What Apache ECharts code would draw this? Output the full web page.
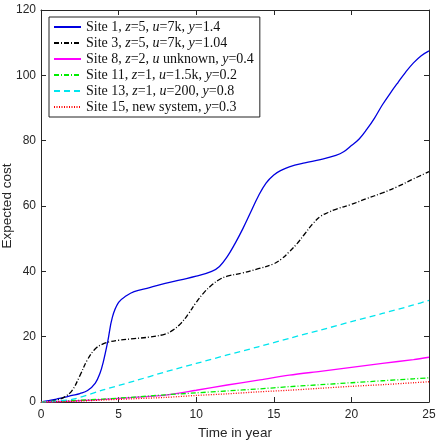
<!DOCTYPE html>
<html>
<head>
<meta charset="utf-8">
<script src="https://cdn.jsdelivr.net/npm/echarts@6/dist/echarts.min.js"></script>
<style>
  html, body { margin: 0; padding: 0; background: #fff; }
  #chart { width: 436px; height: 442px; }
</style>
</head>
<body>
<div id="chart"></div>
<script>
// time points (years) and expected cost per site
const site1T = [0, 0.5, 1, 1.5, 2, 2.5, 3, 3.5, 3.8, 4, 4.3, 4.6, 5, 5.5, 6, 7, 8, 9, 10, 11, 11.5, 12, 12.5, 13, 13.5, 14, 14.5, 15, 15.5, 16, 17, 18, 19, 19.5, 20, 20.5, 21, 21.5, 22, 22.5, 23, 23.5, 24, 24.5, 25];
const site1Y = [0, 0.4, 0.9, 1.4, 2.0, 2.6, 3.5, 5.8, 8.8, 12, 18.5, 26, 30.5, 32.5, 33.8, 35, 36.3, 37.4, 38.5, 40, 41.5, 44.5, 48.5, 53, 58, 63, 67, 69.5, 71, 72, 73.2, 74.2, 75.5, 76.6, 78.5, 80.5, 83.5, 87, 91, 94.5, 97.8, 101, 103.8, 106, 107.5];

const site3T = [0, 0.5, 1, 1.5, 2, 2.5, 3, 3.5, 4, 4.5, 5, 6, 7, 8, 8.5, 9, 9.5, 10, 10.5, 11, 11.5, 12, 13, 14, 15, 15.5, 16, 16.5, 17, 17.5, 18, 18.5, 19, 20, 21, 22, 23, 24, 25];
const site3Y = [0, 0.2, 0.6, 1.5, 3.5, 8, 13, 16.3, 17.8, 18.5, 18.9, 19.4, 19.9, 20.8, 22, 24, 27, 30.5, 33.5, 35.8, 37.5, 38.5, 39.5, 40.8, 42.3, 43.8, 46, 48.5, 51.5, 54.5, 56.8, 58, 59, 60.5, 62.3, 64, 66, 68.3, 70.5];

const years = [0, 2, 4, 6, 8, 10, 12, 14, 16, 18, 20, 22, 24, 25];
const site8Y = [0, 0.3, 0.8, 1.4, 2.1, 3.6, 5.2, 6.7, 8.2, 9.4, 10.6, 11.8, 13.0, 13.7];
const site11Y = [0, 0.4, 0.9, 1.5, 2.2, 2.8, 3.4, 4.0, 4.7, 5.3, 5.9, 6.5, 7.1, 7.4];
const site13Y = [0, 0.8, 3.7, 6.4, 9.2, 11.8, 14.4, 16.9, 19.5, 22.0, 24.6, 27.1, 29.7, 31.1];
const site15Y = [0, 0.2, 0.6, 1.0, 1.4, 2.0, 2.5, 3.1, 3.6, 4.2, 4.8, 5.3, 5.9, 6.2];

const xTicks = [0, 5, 10, 15, 20, 25];
const yTicks = [0, 20, 40, 60, 80, 100, 120];

const names = [
  'Site 1, z=5, u=7k, y=1.4',
  'Site 3, z=5, u=7k, y=1.04',
  'Site 8, z=2, u unknown, y=0.4',
  'Site 11, z=1, u=1.5k, y=0.2',
  'Site 13, z=1, u=200, y=0.8',
  'Site 15, new system, y=0.3'
];
// legend labels with italic math letters
const richNames = [
  'Site 1, {i|z}=5, {i|u}=7k, {i|y}=1.4',
  'Site 3, {i|z}=5, {i|u}=7k, {i|y}=1.04',
  'Site 8, {i|z}=2, {i|u} unknown, {i|y}=0.4',
  'Site 11, {i|z}=1, {i|u}=1.5k, {i|y}=0.2',
  'Site 13, {i|z}=1, {i|u}=200, {i|y}=0.8',
  'Site 15, new system, {i|y}=0.3'
];

function pairs(t, y) {
  return t.map((v, i) => [v, y[i]]);
}

const axisColor = '#262626';
const fontFam = 'Liberation Sans, Arial, sans-serif';
const serif = 'Liberation Serif, Times New Roman, serif';

function line(name, data, color, type, smooth) {
  return {
    name: name,
    type: 'line',
    data: data,
    symbol: 'none',
    smooth: smooth,
    lineStyle: { color: color, width: 1.3, type: type },
    itemStyle: { color: color }
  };
}

// box axis (no labels), used for the top and right edges
function edgeAxis(min, max, interval, pos) {
  return {
    type: 'value', min: min, max: max, interval: interval, position: pos,
    axisLine: { show: true, onZero: false, lineStyle: { color: axisColor } },
    axisTick: { inside: true, length: 5, lineStyle: { color: axisColor } },
    axisLabel: { show: false },
    splitLine: { show: false }
  };
}

let chart = echarts.init(document.getElementById('chart'));
let option = {
  animation: false,
  backgroundColor: '#fff',
  grid: { left: 41, right: 7, top: 10, bottom: 40, outerBoundsMode: 'none', containLabel: false },
  legend: {
    orient: 'vertical',
    left: 49,
    top: 17,
    padding: [3, 6, 3, 4],
    itemGap: 2,
    itemWidth: 27,
    itemHeight: 14,
    borderColor: '#222',
    borderWidth: 1,
    backgroundColor: '#fff',
    data: names,
    itemStyle: { color: 'rgba(0,0,0,0)', borderColor: 'rgba(0,0,0,0)', borderWidth: 0 },
    formatter: function (n) { return richNames[names.indexOf(n)]; },
    textStyle: {
      fontFamily: serif,
      fontSize: 14,
      color: '#111',
      rich: { i: { fontStyle: 'italic', fontFamily: serif, fontSize: 14, color: '#111' } }
    }
  },
  xAxis: [{
    type: 'value', min: 0, max: 25, interval: 5, position: 'bottom',
    name: 'Time in year', nameLocation: 'middle', nameGap: 24, nameMoveOverlap: false,
    nameTextStyle: { fontFamily: fontFam, fontSize: 13.5, color: axisColor },
    axisLine: { show: true, onZero: false, lineStyle: { color: axisColor } },
    axisTick: { inside: true, length: 5, lineStyle: { color: axisColor } },
    axisLabel: { fontFamily: fontFam, fontSize: 12, color: axisColor, margin: 7,
      formatter: v => xTicks.includes(v) ? String(v) : '' },
    splitLine: { show: false }
  }, edgeAxis(0, 25, 5, 'top')],
  yAxis: [{
    type: 'value', min: 0, max: 120, interval: 20, position: 'left',
    name: 'Expected cost', nameLocation: 'middle', nameGap: 27, nameMoveOverlap: false,
    nameTextStyle: { fontFamily: fontFam, fontSize: 13.5, color: axisColor },
    axisLine: { show: true, onZero: false, lineStyle: { color: axisColor } },
    axisTick: { inside: true, length: 5, lineStyle: { color: axisColor } },
    axisLabel: { fontFamily: fontFam, fontSize: 12, color: axisColor, margin: 5,
      formatter: v => yTicks.includes(v) ? String(v) : '' },
    splitLine: { show: false }
  }, edgeAxis(0, 120, 20, 'right')],
  series: [
    line(names[0], pairs(site1T, site1Y), '#0000e0', 'solid', 0.4),
    line(names[1], pairs(site3T, site3Y), '#000000', [5, 2, 1, 2], 0.4),
    line(names[2], pairs(years, site8Y), '#ff00ff', 'solid', 0.3),
    line(names[3], pairs(years, site11Y), '#00ee00', [5, 2, 1, 2], 0.3),
    line(names[4], pairs(years, site13Y), '#00e5ee', [6, 4], 0.3),
    line(names[5], pairs(years, site15Y), '#ff0000', [1, 1.5], 0.3)
  ]
};
option && chart.setOption(option);
</script>
</body>
</html>
